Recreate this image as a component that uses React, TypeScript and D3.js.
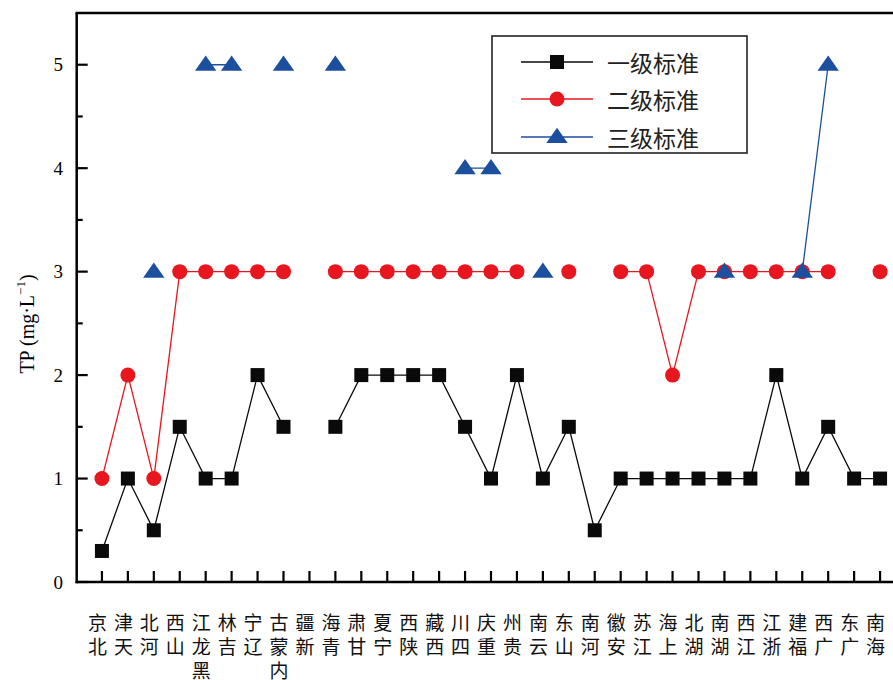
import React from "react";
import * as d3 from "d3";

const provinces: string[] = [
  "北京", "天津", "河北", "山西", "黑龙江", "吉林", "辽宁", "内蒙古", "新疆", "青海",
  "甘肃", "宁夏", "陕西", "西藏", "四川", "重庆", "贵州", "云南", "山东", "河南",
  "安徽", "江苏", "上海", "湖北", "湖南", "江西", "浙江", "福建", "广西", "广东", "海南",
];

const grade1: (number | null)[] = [
  0.3, 1, 0.5, 1.5, 1, 1, 2, 1.5, null, 1.5,
  2, 2, 2, 2, 1.5, 1, 2, 1, 1.5, 0.5,
  1, 1, 1, 1, 1, 1, 2, 1, 1.5, 1, 1,
];

const grade2: (number | null)[] = [
  1, 2, 1, 3, 3, 3, 3, 3, null, 3,
  3, 3, 3, 3, 3, 3, 3, null, 3, null,
  3, 3, 2, 3, 3, 3, 3, 3, 3, null, 3,
];

const grade3: (number | null)[] = [
  null, null, 3, null, 5, 5, null, 5, null, 5,
  null, null, null, null, 4, 4, null, 3, null, null,
  null, null, null, null, 3, null, null, 3, 5, null, null,
];

const seriesNames: string[] = ["一级标准", "二级标准", "三级标准"];
const yTicks: number[] = [0, 1, 2, 3, 4, 5];
const yMinorTicks: number[] = [0.5, 1.5, 2.5, 3.5, 4.5];

const W = 893;
const H = 680;
const colors = ["#0a0a0a", "#e8161e", "#1d4f9f"];
const serif = "'Liberation Serif', 'Times New Roman', serif";
const cjk = "'Noto Sans CJK SC', sans-serif";

function Marker({ kind, x, y, color }: { kind: number; x: number; y: number; color: string }) {
  if (kind === 0) return <rect x={x - 7} y={y - 7} width={14} height={14} fill={color} />;
  if (kind === 1) return <circle cx={x} cy={y} r={7.5} fill={color} />;
  const tri = d3.symbol().type(d3.symbolTriangle).size(150)();
  return <path d={tri || ""} transform={`translate(${x},${y + 1}) scale(1.15,0.95)`} fill={color} />;
}

export default function App() {
  const x = d3.scaleLinear().domain([-1, 31]).range([76, 906]);
  const y = d3.scaleLinear().domain([0, 5.5]).range([582, 13]);
  const series = [grade1, grade2, grade3];
  const line = d3
    .line<number | null>()
    .defined((d) => d != null)
    .x((_, i) => x(i))
    .y((d) => y(d as number));

  const left = x(-1) + 0.7;
  const right = x(31);
  const top = y(5.5);
  const bottom = y(0);

  const legX = 492;
  const legY = 36;
  const legRows = [62, 99, 137];

  return (
    <svg
      width={W}
      height={H}
      style={{ position: "absolute", left: 0, top: 0, background: "#fff" }}
      xmlns="http://www.w3.org/2000/svg"
    >
      <rect x={0} y={0} width={W} height={H} fill="#fff" />
      {/* data lines and markers */}
      {series.map((s, k) => (
        <g key={k}>
          <path d={line(s) || ""} fill="none" stroke={colors[k]} strokeWidth={1.3} />
          {s.map((v, i) =>
            v == null ? null : <Marker key={i} kind={k} x={x(i)} y={y(v)} color={colors[k]} />
          )}
        </g>
      ))}

      {/* frame */}
      <line x1={left} x2={left} y1={top} y2={bottom + 1.2} stroke="#000" strokeWidth={2.5} />
      <line x1={left - 1.2} x2={right} y1={bottom} y2={bottom} stroke="#000" strokeWidth={2.5} />
      <line x1={left - 1.2} x2={right} y1={top} y2={top} stroke="#000" strokeWidth={2.5} />
      <line x1={right} x2={right} y1={top} y2={bottom} stroke="#000" strokeWidth={2.5} />

      {/* y ticks */}
      {yTicks.map((t) => (
        <g key={t}>
          <line x1={left} x2={left + 11} y1={y(t)} y2={y(t)} stroke="#000" strokeWidth={2.2} />
          <text
            x={63}
            y={y(t)}
            textAnchor="end"
            dominantBaseline="central"
            fontFamily={serif}
            fontSize={19}
            fill="#000"
          >
            {t}
          </text>
        </g>
      ))}
      {yMinorTicks.map((t) => (
        <line key={t} x1={left} x2={left + 6} y1={y(t)} y2={y(t)} stroke="#000" strokeWidth={2.2} />
      ))}

      {/* x ticks and labels (characters stacked, read bottom to top) */}
      {provinces.map((p, i) => {
        const reversed = Array.from(p).reverse().join("");
        return (
          <g key={p}>
            <line x1={x(i)} x2={x(i)} y1={bottom} y2={bottom - 11} stroke="#000" strokeWidth={2.2} />
            <text
              x={x(i) - 4.5}
              y={613}
              fontFamily={cjk}
              fontSize={19}
              fill="#111"
              letterSpacing={5}
              style={{ writingMode: "vertical-rl", textOrientation: "upright" } as React.CSSProperties}
            >
              {reversed}
            </text>
          </g>
        );
      })}

      {/* y axis title */}
      <text
        transform={`translate(27,324) rotate(-90)`}
        textAnchor="middle"
        dominantBaseline="central"
        fontFamily={serif}
        fontSize={20}
        fill="#000"
      >
        TP (mg·L
        <tspan dy={-7} fontSize={13}>
          −1
        </tspan>
        <tspan dy={7}>)</tspan>
      </text>

      {/* legend */}
      <rect x={legX} y={legY} width={255} height={117} fill="#fff" stroke="#222" strokeWidth={1.6} />
      {seriesNames.map((name, k) => (
        <g key={name}>
          <line x1={521} x2={593} y1={legRows[k]} y2={legRows[k]} stroke={colors[k]} strokeWidth={1.3} />
          <Marker kind={k} x={557} y={legRows[k]} color={colors[k]} />
          <text
            x={607}
            y={legRows[k]}
            dominantBaseline="central"
            fontFamily={cjk}
            fontSize={23}
            fill="#222"
          >
            {name}
          </text>
        </g>
      ))}
    </svg>
  );
}
